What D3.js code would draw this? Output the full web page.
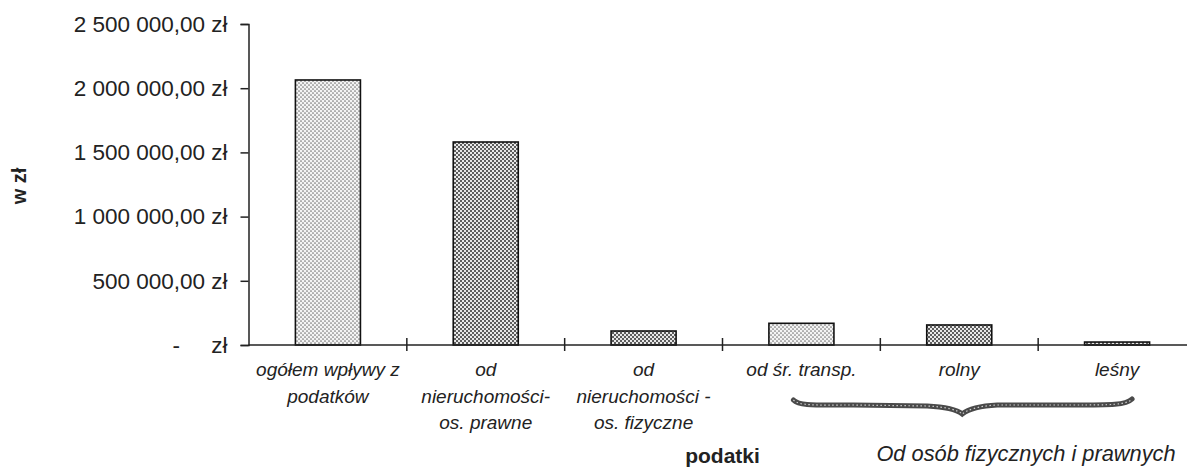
<!DOCTYPE html>
<html>
<head>
<meta charset="utf-8">
<script src="https://cdn.jsdelivr.net/npm/d3@7"></script>
<style>
  html, body { margin: 0; padding: 0; background: #fff; }
  svg { display: block; font-family: "Liberation Sans", Arial, sans-serif; }
</style>
</head>
<body>
<svg id="chart" width="1187" height="468"></svg>
<script>
// ---- data ----
const categories = [
  "ogółem wpływy z\npodatków",
  "od\nnieruchomości-\nos. prawne",
  "od\nnieruchomości -\nos. fizyczne",
  "od śr. transp.",
  "rolny",
  "leśny"
];
const values = [2064000, 1581000, 109000, 169000, 156000, 23000];
const patternKinds = ["light", "dark", "dark", "light", "dark", "dark"];
const yTicks = [0, 500000, 1000000, 1500000, 2000000, 2500000];
const yTitle = "w zł";
const xTitle = "podatki";
const groupLabel = "Od osób fizycznych i prawnych";
const groupCats = [3, 4, 5];

// ---- layout ----
const svg = d3.select("#chart");
const x0 = 249, x1 = 1196, yBase = 345, yTop = 24;

const x = d3.scaleBand()
  .domain(d3.range(categories.length))
  .range([x0, x1])
  .paddingInner(0.588)
  .paddingOuter(0.294);

const y = d3.scaleLinear().domain([0, 2500000]).range([yBase, yTop]);

// patterns
const defs = svg.append("defs");
function dotPattern(id, bg, color, r) {
  const p = defs.append("pattern").attr("id", id)
    .attr("patternUnits", "userSpaceOnUse").attr("width", 4).attr("height", 4);
  p.append("rect").attr("width", 4).attr("height", 4).attr("fill", bg);
  p.append("circle").attr("cx", 1).attr("cy", 1).attr("r", r).attr("fill", color);
  p.append("circle").attr("cx", 3).attr("cy", 3).attr("r", r).attr("fill", color);
}
dotPattern("pat-light", "#f4f4f4", "#777", 0.85);
dotPattern("pat-dark", "#e8e8e8", "#2e2e2e", 1.0);

// bars
svg.append("g").selectAll("rect")
  .data(values)
  .join("rect")
  .attr("x", (d, i) => x(i))
  .attr("y", d => y(d))
  .attr("width", x.bandwidth())
  .attr("height", d => yBase - y(d))
  .attr("fill", (d, i) => `url(#pat-${patternKinds[i]})`)
  .attr("stroke", "#111")
  .attr("stroke-width", 1.6);

// y axis
const fmt = v => {
  if (v === 0) return "-\u00a0\u00a0\u00a0\u00a0\u00a0zł";
  const s = d3.format(",.2f")(v).replace(/,/g, " ").replace(".", ",");
  return s + " zł";
};
const yAxis = svg.append("g")
  .attr("transform", `translate(${x0 - 0.5},0)`)
  .call(d3.axisLeft(y).tickValues(yTicks).tickFormat(fmt).tickSize(8).tickPadding(13));
yAxis.select(".domain").attr("stroke", "#222").attr("stroke-width", 1.5);
yAxis.selectAll(".tick line").attr("stroke", "#222").attr("stroke-width", 1.5);
yAxis.selectAll(".tick text")
  .attr("font-size", 22.5).attr("fill", "#222")
  .attr("font-family", "'Liberation Sans', Arial, sans-serif");

// x axis (baseline + separator ticks crossing the line)
const xAxisG = svg.append("g");
xAxisG.append("line")
  .attr("x1", x0 - 0.5).attr("x2", x1 + 10)
  .attr("y1", yBase).attr("y2", yBase)
  .attr("stroke", "#222").attr("stroke-width", 1.5);
const step = x.step();
xAxisG.selectAll(".sep")
  .data(d3.range(1, categories.length))
  .join("line")
  .attr("class", "sep")
  .attr("x1", i => x0 + i * step).attr("x2", i => x0 + i * step)
  .attr("y1", yBase - 7).attr("y2", yBase + 6)
  .attr("stroke", "#222").attr("stroke-width", 1.5);

// category labels
const labels = svg.append("g")
  .attr("font-size", 19).attr("font-style", "italic").attr("fill", "#222")
  .attr("text-anchor", "middle");
categories.forEach((c, i) => {
  const t = labels.append("text")
    .attr("x", x(i) + x.bandwidth() / 2)
    .attr("y", 376);
  c.split("\n").forEach((line, j) => {
    t.append("tspan")
      .attr("x", x(i) + x.bandwidth() / 2)
      .attr("dy", j === 0 ? 0 : 26.5)
      .text(line);
  });
});

// brace under grouped categories
const cx = i => x(i) + x.bandwidth() / 2;
const bl = cx(groupCats[0]) - 8, br = cx(groupCats[2]) + 15, bm = cx(groupCats[1]) + 3;
const by = 405;
const brace = d3.path();
brace.moveTo(bl, by - 5);
brace.bezierCurveTo(bl + 6, by + 1, bl + 20, by, bl + 60, by);
brace.lineTo(bm - 35, by + 1);
brace.bezierCurveTo(bm - 15, by + 2, bm - 5, by + 5, bm, by + 9);
brace.bezierCurveTo(bm + 5, by + 5, bm + 15, by + 1, bm + 35, by);
brace.lineTo(br - 60, by);
brace.bezierCurveTo(br - 20, by, br - 6, by, br, by - 6);
svg.append("path")
  .attr("d", brace.toString())
  .attr("fill", "none")
  .attr("stroke", "#4a4a4a")
  .attr("stroke-width", 5)
  .attr("stroke-linecap", "round");
svg.append("path")
  .attr("d", brace.toString())
  .attr("fill", "none")
  .attr("stroke", "#ccc")
  .attr("stroke-width", 1.2)
  .attr("stroke-dasharray", "1.5 2.5");

svg.append("text")
  .attr("x", cx(groupCats[0]) + 75)
  .attr("y", 461)
  .attr("text-anchor", "start")
  .attr("font-size", 21.8).attr("font-style", "italic").attr("fill", "#222")
  .text(groupLabel);

// axis titles
svg.append("text")
  .attr("x", (x0 + x1) / 2)
  .attr("y", 463)
  .attr("text-anchor", "middle")
  .attr("font-size", 21).attr("font-weight", "bold").attr("fill", "#222")
  .text(xTitle);

svg.append("text")
  .attr("transform", `translate(26,186) rotate(-90)`)
  .attr("text-anchor", "middle")
  .attr("font-size", 20).attr("font-weight", "bold").attr("fill", "#222")
  .text(yTitle);
</script>
</body>
</html>
